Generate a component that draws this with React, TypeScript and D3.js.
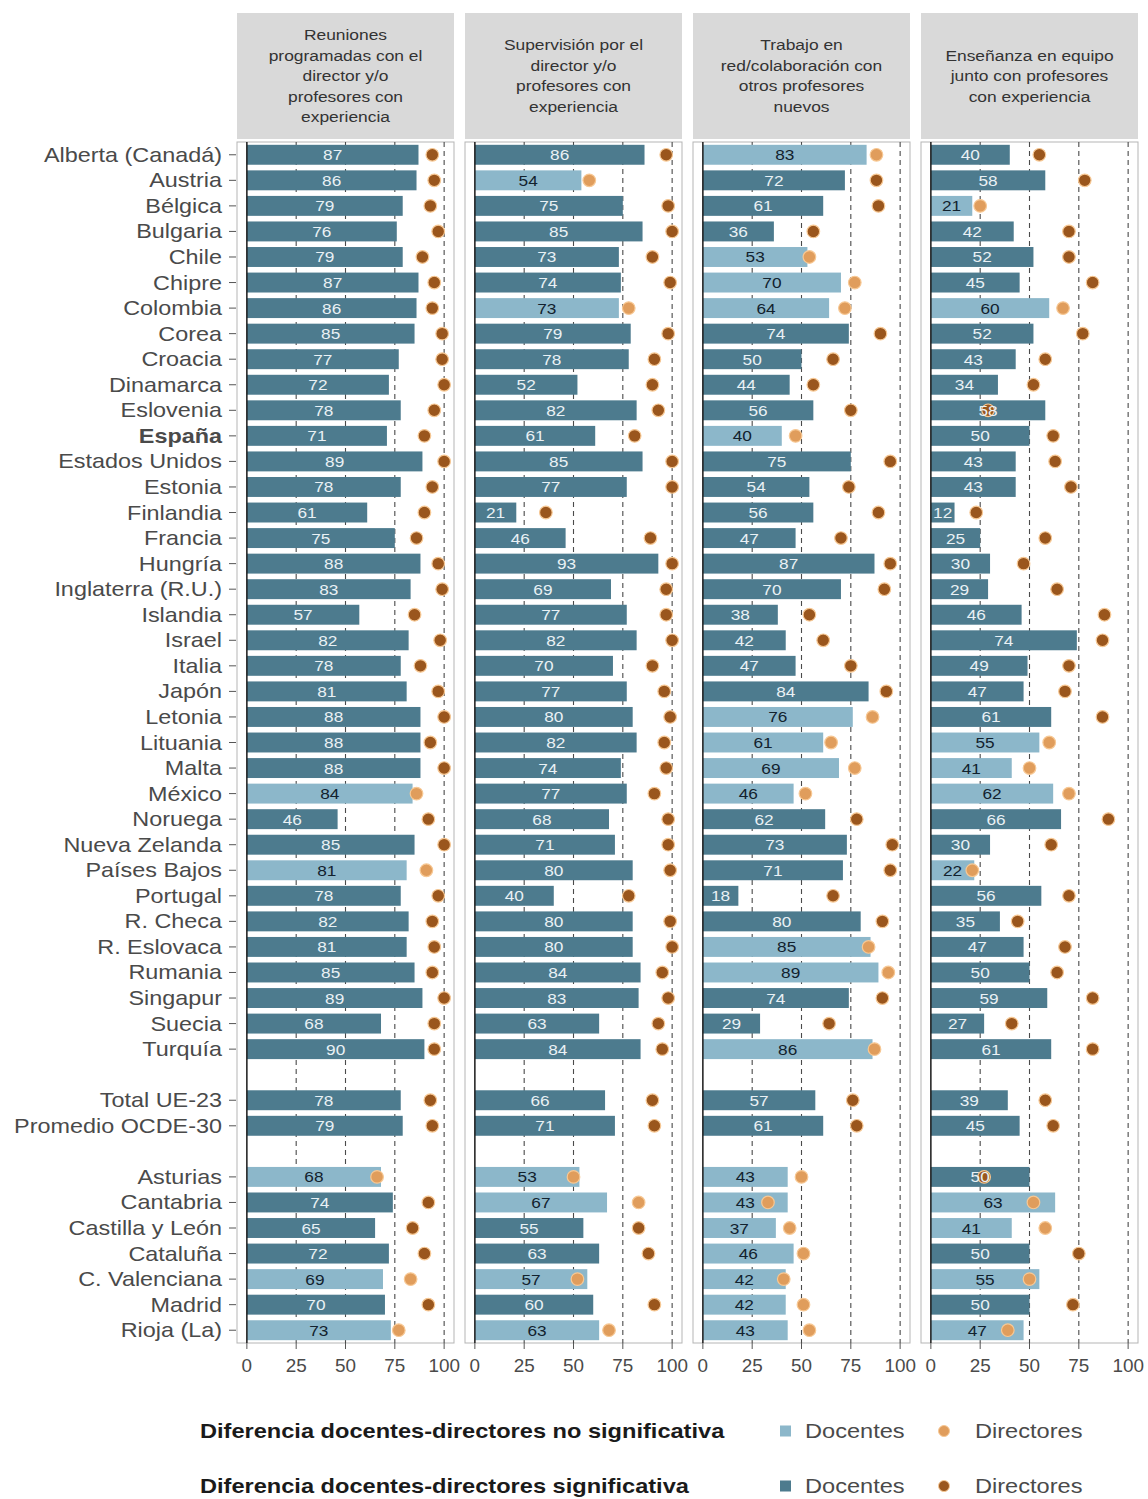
import React from "react";
import * as d3 from "d3";

const countries = [
  "Alberta (Canadá)", "Austria", "Bélgica", "Bulgaria", "Chile", "Chipre", "Colombia", "Corea",
  "Croacia", "Dinamarca", "Eslovenia", "España", "Estados Unidos", "Estonia", "Finlandia", "Francia",
  "Hungría", "Inglaterra (R.U.)", "Islandia", "Israel", "Italia", "Japón", "Letonia", "Lituania",
  "Malta", "México", "Noruega", "Nueva Zelanda", "Países Bajos", "Portugal", "R. Checa", "R. Eslovaca",
  "Rumania", "Singapur", "Suecia", "Turquía",
];
const aggregates = ["Total UE-23", "Promedio OCDE-30"];
const regions = ["Asturias", "Cantabria", "Castilla y León", "Cataluña", "C. Valenciana", "Madrid", "Rioja (La)"];
const gaps = ["__gap1", "__gap2"];

const titles = [
  ["Reuniones", "programadas con el", "director y/o", "profesores con", "experiencia"],
  ["Supervisión por el", "director y/o", "profesores con", "experiencia"],
  ["Trabajo en", "red/colaboración con", "otros profesores", "nuevos"],
  ["Enseñanza en equipo", "junto con profesores", "con experiencia"],
];

// Order: countries, aggregates, regions
const docentes1 = [87,86,79,76,79,87,86,85,77,72,78,71,89,78,61,75,88,83,57,82,78,81,88,88,88,84,46,85,81,78,82,81,85,89,68,90,78,79,68,74,65,72,69,70,73];
const directores1 = [94,95,93,97,89,95,94,99,99,100,95,90,100,94,90,86,97,99,85,98,88,97,100,93,100,86,92,100,91,97,94,95,94,100,95,95,93,94,66,92,84,90,83,92,77];
const signif1 = [1,1,1,1,1,1,1,1,1,1,1,1,1,1,1,1,1,1,1,1,1,1,1,1,1,0,1,1,0,1,1,1,1,1,1,1,1,1,0,1,1,1,0,1,0];

const docentes2 = [86,54,75,85,73,74,73,79,78,52,82,61,85,77,21,46,93,69,77,82,70,77,80,82,74,77,68,71,80,40,80,80,84,83,63,84,66,71,53,67,55,63,57,60,63];
const directores2 = [97,58,98,100,90,99,78,98,91,90,93,81,100,100,36,89,100,97,97,100,90,96,99,96,97,91,98,98,99,78,99,100,95,98,93,95,90,91,50,83,83,88,52,91,68];
const signif2 = [1,0,1,1,1,1,0,1,1,1,1,1,1,1,1,1,1,1,1,1,1,1,1,1,1,1,1,1,1,1,1,1,1,1,1,1,1,1,0,0,1,1,0,1,0];

const docentes3 = [83,72,61,36,53,70,64,74,50,44,56,40,75,54,56,47,87,70,38,42,47,84,76,61,69,46,62,73,71,18,80,85,89,74,29,86,57,61,43,43,37,46,42,42,43];
const directores3 = [88,88,89,56,54,77,72,90,66,56,75,47,95,74,89,70,95,92,54,61,75,93,86,65,77,52,78,96,95,66,91,84,94,91,64,87,76,78,50,33,44,51,41,51,54];
const signif3 = [0,1,1,1,0,0,0,1,1,1,1,0,1,1,1,1,1,1,1,1,1,1,0,0,0,0,1,1,1,1,1,0,0,1,1,0,1,1,0,0,0,0,0,0,0];

const docentes4 = [40,58,21,42,52,45,60,52,43,34,58,50,43,43,12,25,30,29,46,74,49,47,61,55,41,62,66,30,22,56,35,47,50,59,27,61,39,45,50,63,41,50,55,50,47];
const directores4 = [55,78,25,70,70,82,67,77,58,52,29,62,63,71,23,58,47,64,88,87,70,68,87,60,50,70,90,61,21,70,44,68,64,82,41,82,58,62,27,52,58,75,50,72,39];
const signif4 = [1,1,0,1,1,1,0,1,1,1,1,1,1,1,1,1,1,1,1,1,1,1,1,0,0,0,1,1,0,1,1,1,1,1,1,1,1,1,1,0,0,1,0,1,0];

const xTicks = [0, 25, 50, 75, 100];
const legendRows = [
  { title: "Diferencia docentes-directores no significativa", sig: 0 },
  { title: "Diferencia docentes-directores significativa", sig: 1 },
];

const C = {
  barDark: "#4d7b8e",
  barLight: "#8cb7ca",
  dotDark: "#9a561d",
  dotLight: "#e09d5c",
  halo: "#f7c894",
  strip: "#d9d9d9",
  border: "#b5b5b5",
  text: "#4a4a4a",
};

const FONT = "'Liberation Sans', Arial, sans-serif";

function T({ x, y, sx = 1, children, ...rest }: any) {
  return (
    <text transform={`translate(${x},${y}) scale(${sx},1)`} fontFamily={FONT} {...rest}>
      {children}
    </text>
  );
}

export default function App() {
  const W = 1148, H = 1499;
  const rows = [...countries, gaps[0], ...aggregates, gaps[1], ...regions];
  const dataRows = [...countries, ...aggregates, ...regions];
  const panelTop = 142, panelBottom = 1343;
  const stripTop = 13, stripBottom = 139;
  const left0 = 237, step = 228, pw = 217;

  const y = d3.scalePoint<string>().domain(rows).range([panelTop, panelBottom]).padding(0.5);
  const bh = y.step() * 0.78;

  const panels = [
    { title: titles[0], doc: docentes1, dir: directores1, sig: signif1 },
    { title: titles[1], doc: docentes2, dir: directores2, sig: signif2 },
    { title: titles[2], doc: docentes3, dir: directores3, sig: signif3 },
    { title: titles[3], doc: docentes4, dir: directores4, sig: signif4 },
  ];

  return (
    <svg width={W} height={H} style={{ position: "absolute", left: 0, top: 0, background: "#fff" }}>
      <rect x={0} y={0} width={W} height={H} fill="#fff" />
      {/* y-axis labels */}
      {dataRows.map((name) => (
        <g key={name}>
          <T x={222} y={(y(name) as number) + 7} sx={1.17} textAnchor="end" fontSize={20} fill={C.text}
            fontWeight={name === "España" ? "bold" : "normal"}>
            {name}
          </T>
          <line x1={229} x2={236} y1={y(name)} y2={y(name)} stroke="#555" strokeWidth={1} />
        </g>
      ))}
      {panels.map((p, pi) => {
        const L = left0 + pi * step;
        const x = d3.scaleLinear().domain([-5, 105]).range([L, L + pw]);
        const cx = L + pw / 2;
        const nLines = p.title.length;
        const lh = 20.5;
        const midY = (stripTop + stripBottom) / 2;
        return (
          <g key={pi}>
            <rect x={L} y={stripTop} width={pw} height={stripBottom - stripTop} fill={C.strip} />
            {p.title.map((t, i) => (
              <T key={i} x={cx} y={midY + (i - (nLines - 1) / 2) * lh + 5} sx={1.2} textAnchor="middle" fontSize={14.5} fill="#333">
                {t}
              </T>
            ))}
            <rect x={L} y={panelTop} width={pw} height={panelBottom - panelTop} fill="#fff" stroke={C.border} strokeWidth={1} />
            {xTicks.filter((t) => t > 0).map((t) => (
              <line key={t} x1={x(t)} x2={x(t)} y1={panelTop} y2={panelBottom} stroke="#4a4a4a" strokeWidth={1.1} strokeDasharray="5,4" />
            ))}
            {dataRows.map((name, i) => {
              const yc = y(name) as number;
              const v = p.doc[i];
              const s = p.sig[i];
              return (
                <rect key={name} x={x(0)} y={yc - bh / 2} width={x(v) - x(0)} height={bh} fill={s ? C.barDark : C.barLight} />
              );
            })}
            <line x1={x(0)} x2={x(0)} y1={panelTop} y2={panelBottom} stroke="#1a1a1a" strokeWidth={1.5} />
            {dataRows.map((name, i) => {
              const yc = y(name) as number;
              const s = p.sig[i];
              return (
                <circle key={name} cx={x(p.dir[i])} cy={yc} r={6.3} fill={s ? C.dotDark : C.dotLight} stroke={C.halo} strokeWidth={1.2} />
              );
            })}
            {dataRows.map((name, i) => {
              const yc = y(name) as number;
              const v = p.doc[i];
              const s = p.sig[i];
              return (
                <T key={name} x={x(v / 2)} y={yc + 5.5} sx={1.15} textAnchor="middle" fontSize={15} fill={s ? "#e9f1f5" : "#12222e"}>
                  {v}
                </T>
              );
            })}
            {xTicks.map((t) => (
              <g key={t}>
                <line x1={x(t)} x2={x(t)} y1={panelBottom} y2={panelBottom + 6} stroke="#555" />
                <T x={x(t)} y={panelBottom + 29} sx={1.05} textAnchor="middle" fontSize={18} fill={C.text}>
                  {t}
                </T>
              </g>
            ))}
          </g>
        );
      })}
      {/* legend */}
      {legendRows.map((r, i) => {
        const yc = 1431 + i * 55;
        return (
          <g key={i}>
            <T x={200} y={yc + 7} sx={1.18} fontSize={20} fontWeight="bold" fill="#1a1a1a">{r.title}</T>
            <rect x={780} y={yc - 5.5} width={11} height={11} fill={r.sig ? C.barDark : C.barLight} />
            <T x={805} y={yc + 7} sx={1.18} fontSize={20} fill={C.text}>Docentes</T>
            <circle cx={944} cy={yc} r={5.5} fill={r.sig ? C.dotDark : C.dotLight} stroke={C.halo} strokeWidth={1} />
            <T x={975} y={yc + 7} sx={1.18} fontSize={20} fill={C.text}>Directores</T>
          </g>
        );
      })}
    </svg>
  );
}
